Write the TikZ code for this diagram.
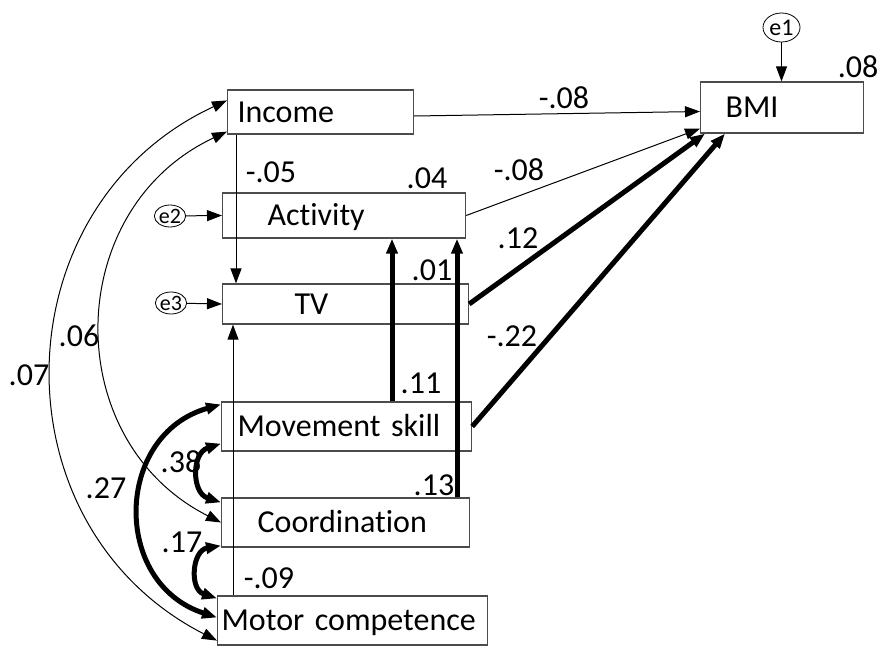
\documentclass[tikz,border=0pt]{standalone}
\usepackage{fontspec}
\setmainfont{Carlito}[Ligatures=NoCommon]
\usetikzlibrary{arrows.meta,shapes.geometric}
\begin{document}
\begin{tikzpicture}[x=1pt, y=-1pt, line width=1pt,
  >={Triangle[length=15pt,width=11pt]},
  box/.style={draw=black!70, line width=1.2pt, anchor=west, align=left, inner ysep=0pt,
    text height=20.6pt, text depth=0pt, font=\fontsize{32pt}{38pt}\selectfont},
  lbl/.style={inner sep=0pt, font=\fontsize{32pt}{38pt}\selectfont},
  err/.style={draw, ellipse, inner sep=0pt, line width=0.8pt},
  thn/.style={->, line width=1pt},
  thk/.style={->, line width=5pt},
  cov/.style={<->, line width=1pt},
  covk/.style={<->, line width=5pt}]
  \useasboundingbox (0,0) rectangle (881,648);
  \node[box, minimum height=44pt, text width=166pt, inner xsep=10pt] (inc) at (227,112) {Income};
  \node[box, minimum height=45pt, text width=153pt, inner xsep=45pt] (act) at (222,215.5) {Activity};
  \node[box, minimum height=40pt, text width=102pt, inner xsep=72pt] (tv) at (222,304) {TV};
  \node[box, minimum height=49pt, text width=218pt, inner xsep=16pt] (mov) at (221,426.5) {Movement skill};
  \node[box, minimum height=49pt, text width=176pt, inner xsep=36pt] (coo) at (221,522.5) {Coordination};
  \node[box, minimum height=49pt, text width=262pt, inner xsep=4pt] (mot) at (217,620.5) {Motor competence};
  \node[box, minimum height=51pt, text width=113pt, inner xsep=25pt] (bmi) at (700,107.5) {BMI};
  \node[err, minimum width=37pt, minimum height=29pt, font=\fontsize{24pt}{28pt}\selectfont] (e1) at (781.5,27.5) {e1};
  \node[err, minimum width=24pt, minimum height=22pt, font=\fontsize{22pt}{26pt}\selectfont] (e2) at (170,216) {e2};
  \node[err, minimum width=24pt, minimum height=22pt, font=\fontsize{22pt}{26pt}\selectfont] (e3) at (171,303) {e3};
  \coordinate (ix) at (236,0);
  \coordinate (mx) at (233,0);
  \coordinate (msx) at (392,0);
  \coordinate (cox) at (457,0);
  \draw[thn] (e1) -- (bmi.north -| e1);
  \draw[thn] (e2) -- (act.west);
  \draw[thn] (e3) -- (tv.west);
  \draw[thn] ([yshift=-4pt]inc.east) -- ([yshift=-4pt]bmi.west);
  \draw[thn] (act.east) -- ([yshift=5pt]bmi.south west);
  \draw[thk] (tv.east) -- ([xshift=5pt]bmi.south west);
  \draw[thk] (mov.east) -- ([xshift=25pt]bmi.south west);
  \draw[thn] (inc.south -| ix) -- (tv.north -| ix);
  \draw[thn] (mot.north -| mx) -- (tv.south -| mx);
  \draw[thk] (mov.north -| msx) -- (act.south -| msx);
  \draw[thk] (coo.north -| cox) -- (act.south -| cox);
  \draw[cov] ([yshift=-11pt]inc.north west) to[bend right=64, looseness=1.19] ([yshift=5pt]mot.south west);
  \draw[cov] ([yshift=3pt]inc.south west) to[bend right=64, looseness=1.19] (coo.west);
  \draw[covk] ([yshift=-3pt]mov.north west) to[bend right=73, looseness=1.33] ([yshift=3pt]mot.west);
  \draw[covk] ([yshift=8pt]mov.south west) to[bend right=72, looseness=1.35] ([yshift=-5pt]coo.north west);
  \draw[covk] ([yshift=2pt]coo.south west) to[bend right=76, looseness=1.42] ([yshift=-3pt]mot.north west);
  \node[lbl] (r2bmi) at (858,67) {.08};
  \node[lbl] (r2act) at (427,178) {.04};
  \node[lbl] (r2tv) at (432,270) {.01};
  \node[lbl] (lincbmi) at (564,98) {-.08};
  \node[lbl] (lactbmi) at (519,170) {-.08};
  \node[lbl] (ltvbmi) at (518,238) {.12};
  \node[lbl] (lmovbmi) at (512,336) {-.22};
  \node[lbl] (linctv) at (271,172) {-.05};
  \node[lbl] (lmovact) at (421,383) {.11};
  \node[lbl] (lcooact) at (434,485) {.13};
  \node[lbl] (lmottv) at (269,578) {-.09};
  \node[lbl] (lincmot) at (29,375) {.07};
  \node[lbl] (linccoo) at (79,336) {.06};
  \node[lbl] (lmovmot) at (106,488) {.27};
  \node[lbl] (lmovcoo) at (181,462) {.38};
  \node[lbl] (lcoomot) at (182,542) {.17};
\end{tikzpicture}
\end{document}
